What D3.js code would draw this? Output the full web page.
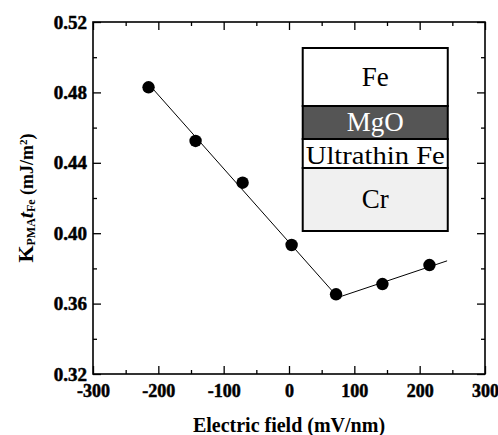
<!DOCTYPE html>
<html>
<head>
<meta charset="utf-8">
<script src="https://d3js.org/d3.v7.min.js"></script>
<style>
  body { margin: 0; background: #fff; }
  text { font-family: "Liberation Serif", "Times New Roman", serif; }
  .inset text { font-family: "Liberation Serif", serif; font-weight: normal; }
</style>
</head>
<body>
<script>
// measured points, electric field (mV/nm) vs K_PMA*t_Fe (mJ/m^2)
var fieldVals = [-215, -143, -71, 4, 72, 143, 215];
var kVals = [0.4829, 0.4524, 0.4287, 0.3933, 0.3653, 0.3711, 0.3819];

// the two linear fits
var fitLeft = [[-215, 0.4848], [75, 0.3635]];
var fitRight = [[75, 0.3635], [242, 0.3843]];

var xMajor = [-300, -200, -100, 0, 100, 200, 300];
var xMinor = [-250, -150, -50, 50, 150, 250];
var yMajor = [0.32, 0.36, 0.40, 0.44, 0.48, 0.52];
var yMinor = [0.34, 0.38, 0.42, 0.46, 0.50];

// inset layer stack, top to bottom
var layerNames = ["Fe", "MgO", "Ultrathin Fe", "Cr"];
var layerHeights = [58, 33, 29, 63];
var layerFills = ["#ffffff", "#555555", "#ffffff", "#f0f0f0"];
var layerText = ["#000", "#fff", "#000", "#000"];

var width = 498, height = 435;
var m = {top: 22, right: 13, bottom: 61, left: 93};
var w = width - m.left - m.right, h = height - m.top - m.bottom;

var svg = d3.select("body").append("svg")
  .attr("width", width).attr("height", height);

var x = d3.scaleLinear().domain([-300, 300]).range([m.left, m.left + w]);
var y = d3.scaleLinear().domain([0.32, 0.52]).range([m.top + h, m.top]);

function drawAxis(axisFn, scale, major, minor, transform, fmt, pad, size) {
  var g = svg.append("g").attr("transform", transform);
  g.call(axisFn(scale).tickValues(major).tickSize(-8).tickPadding(pad || 0)
    .tickFormat(fmt || (function() { return ""; })));
  g.append("g").call(axisFn(scale).tickValues(minor).tickSize(-4).tickFormat(""));
  g.selectAll(".domain").remove();
  g.attr("font-family", "Liberation Serif").attr("font-weight", "bold");
  g.selectAll("line").attr("stroke", "#000").attr("stroke-width", 1.3);
  g.selectAll("text")
    .attr("font-family", "Liberation Serif")
    .attr("font-weight", "bold")
    .attr("font-size", size || 10)
    .attr("fill", "#000")
    .attr("stroke", "#000").attr("stroke-width", 0.5);
  return g;
}

drawAxis(d3.axisBottom, x, xMajor, xMinor, "translate(0," + (m.top + h) + ")",
  function(d) { return String(d); }, 10, 18);
drawAxis(d3.axisTop, x, xMajor, xMinor, "translate(0," + m.top + ")");
drawAxis(d3.axisLeft, y, yMajor, yMinor, "translate(" + m.left + ",0)",
  d3.format(".2f"), 6, 19);
drawAxis(d3.axisRight, y, yMajor, yMinor, "translate(" + (m.left + w) + ",0)");

// frame
svg.append("rect")
  .attr("x", m.left).attr("y", m.top).attr("width", w).attr("height", h)
  .attr("fill", "none").attr("stroke", "#000").attr("stroke-width", 1.6);

// inset stack
var inset = svg.append("g").attr("class", "inset")
  .attr("transform", "translate(" + x(21) + "," + 48 + ")");
var insetW = x(243) - x(21);
var offs = [0];
layerHeights.forEach(function(d, i) { offs.push(offs[i] + d); });

inset.selectAll("rect.layer")
  .data(layerNames)
  .enter().append("rect")
  .attr("class", "layer")
  .attr("x", 0)
  .attr("y", function(d, i) { return offs[i]; })
  .attr("width", insetW)
  .attr("height", function(d, i) { return layerHeights[i]; })
  .attr("fill", function(d, i) { return layerFills[i]; })
  .attr("stroke", "#000").attr("stroke-width", 2);

inset.selectAll("text.layer")
  .data(layerNames)
  .enter().append("text")
  .attr("x", insetW / 2)
  .attr("y", function(d, i) { return offs[i] + layerHeights[i] / 2; })
  .attr("dy", function(d) { return d === "Ultrathin Fe" ? "0.4em" : "0.33em"; })
  .attr("text-anchor", "middle")
  .attr("fill", function(d, i) { return layerText[i]; })
  .style("font-size", function(d) { return d === "Ultrathin Fe" ? "25px" : "27px"; })
  .attr("textLength", function(d) { return d === "Ultrathin Fe" ? insetW - 6 : null; })
  .attr("lengthAdjust", "spacingAndGlyphs")
  .text(function(d) { return d; });

// fit lines
var line = d3.line().x(function(d) { return x(d[0]); }).y(function(d) { return y(d[1]); });
[fitLeft, fitRight].forEach(function(seg) {
  svg.append("path").attr("d", line(seg))
    .attr("fill", "none").attr("stroke", "#000").attr("stroke-width", 1);
});

// points
svg.selectAll("circle.pt")
  .data(fieldVals)
  .enter().append("circle")
  .attr("class", "pt")
  .attr("cx", function(d) { return x(d); })
  .attr("cy", function(d, i) { return y(kVals[i]); })
  .attr("r", 6.2)
  .attr("fill", "#000");

// x label
svg.append("text")
  .attr("x", x(0)).attr("y", 432)
  .attr("text-anchor", "middle")
  .attr("font-size", 20).attr("font-weight", "bold")
  .text("Electric field (mV/nm)");

// y label
var yl = svg.append("text")
  .attr("transform", "translate(33," + (m.top + h / 2) + ") rotate(-90)")
  .attr("text-anchor", "middle")
  .attr("font-size", 18).attr("font-weight", "bold");
yl.append("tspan").attr("font-size", 22).text("K");
yl.append("tspan").attr("baseline-shift", "-20%").attr("font-size", 12).text("PMA");
yl.append("tspan").attr("font-style", "italic").attr("font-size", 22).text("t");
yl.append("tspan").attr("baseline-shift", "-20%").attr("font-size", 12).text("Fe");
yl.append("tspan").text("  (mJ/m");
yl.append("tspan").attr("baseline-shift", "super").attr("font-size", 11).text("2");
yl.append("tspan").text(")");
</script>
</body>
</html>
